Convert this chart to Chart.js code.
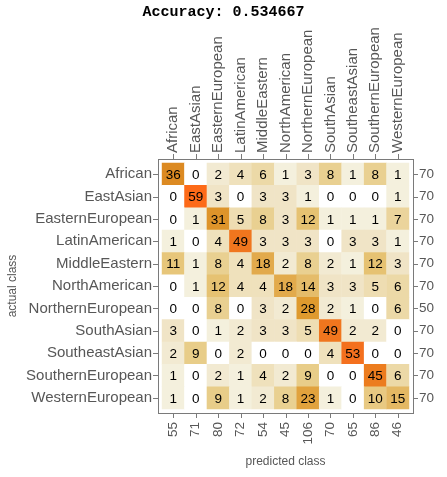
<!DOCTYPE html>
<html>
<head>
    <title>Confusion Matrix</title>
    <script src="https://cdn.jsdelivr.net/npm/chart.js"></script>
    <style>
        body { margin: 0; background: #fff; }
        #wrap { width: 447px; height: 477px; }
    </style>
</head>
<body>
    <div id="wrap"><canvas id="cm" width="447" height="477"></canvas></div>

    <script>
        const classes = ["African", "EastAsian", "EasternEuropean", "LatinAmerican", "MiddleEastern",
            "NorthAmerican", "NorthernEuropean", "SouthAsian", "SoutheastAsian", "SouthernEuropean", "WesternEuropean"];

        // rows = actual class, columns = predicted class
        const matrix = [
            [36, 0, 2, 4, 6, 1, 3, 8, 1, 8, 1],
            [0, 59, 3, 0, 3, 3, 1, 0, 0, 0, 1],
            [0, 1, 31, 5, 8, 3, 12, 1, 1, 1, 7],
            [1, 0, 4, 49, 3, 3, 3, 0, 3, 3, 1],
            [11, 1, 8, 4, 18, 2, 8, 2, 1, 12, 3],
            [0, 1, 12, 4, 4, 18, 14, 3, 3, 5, 6],
            [0, 0, 8, 0, 3, 2, 28, 2, 1, 0, 6],
            [3, 0, 1, 2, 3, 3, 5, 49, 2, 2, 0],
            [2, 9, 0, 2, 0, 0, 0, 4, 53, 0, 0],
            [1, 0, 2, 1, 4, 2, 9, 0, 0, 45, 6],
            [1, 0, 9, 1, 2, 8, 23, 1, 0, 10, 15]
        ];

        const rowTotals = ["70", "70", "70", "70", "70", "70", "50", "70", "70", "70", "70"];
        const colTotals = ["55", "71", "80", "72", "54", "45", "106", "70", "65", "86", "46"];

        // colour ramp (value -> rgb)
        const ramp = [
            [0, [255, 255, 255]], [1, [244, 240, 221]], [3, [240, 228, 198]], [5, [238, 221, 178]],
            [8, [233, 208, 145]], [12, [230, 194, 114]], [14, [229, 188, 106]], [18, [226, 170, 76]],
            [28, [223, 154, 46]], [36, [220, 138, 34]], [45, [236, 124, 30]], [53, [244, 112, 30]],
            [59, [253, 106, 24]]
        ];

        function cellColor(v) {
            for (let k = 1; k < ramp.length; k++) {
                if (v <= ramp[k][0]) {
                    const [v0, c0] = ramp[k - 1], [v1, c1] = ramp[k];
                    const t = (v - v0) / (v1 - v0);
                    const c = c0.map((a, i) => Math.round(a + (c1[i] - a) * t));
                    return `rgb(${c[0]},${c[1]},${c[2]})`;
                }
            }
            return "rgb(253,106,24)";
        }

        const points = [];
        matrix.forEach((row, i) => row.forEach((v, j) => {
            points.push({ x: classes[j], y: classes[i], v: v });
        }));

        const labelColor = "#575757";
        const frameColor = "#7a7a7a";

        // draws numbers in the cells, the frame and the tick marks
        const overlay = {
            id: "overlay",
            afterDatasetsDraw(chart) {
                const ctx = chart.ctx;
                const meta = chart.getDatasetMeta(0);
                ctx.save();
                ctx.font = "13.5px 'Liberation Sans', Arial, sans-serif";
                ctx.fillStyle = "#000";
                ctx.textAlign = "center";
                ctx.textBaseline = "middle";
                meta.data.forEach((el, k) => {
                    ctx.fillText(String(points[k].v), el.x, el.y + 1);
                });
                ctx.restore();
            },
            afterDraw(chart) {
                const ctx = chart.ctx;
                const a = chart.chartArea;
                const pad = 4, tl = 5;
                const L = a.left - pad, R = a.right + pad, T = a.top - pad, B = a.bottom + pad;
                ctx.save();
                ctx.strokeStyle = frameColor;
                ctx.lineWidth = 1;
                ctx.strokeRect(Math.round(L) + 0.5, Math.round(T) + 0.5, Math.round(R - L), Math.round(B - T));
                ctx.beginPath();
                const xs = chart.scales.x, ys = chart.scales.y;
                classes.forEach((c, i) => {
                    const px = Math.round(xs.getPixelForValue(i)) + 0.5;
                    ctx.moveTo(px, T); ctx.lineTo(px, T - tl);
                    ctx.moveTo(px, B); ctx.lineTo(px, B + tl);
                    const py = Math.round(ys.getPixelForValue(i)) + 0.5;
                    ctx.moveTo(L, py); ctx.lineTo(L - tl, py);
                    ctx.moveTo(R, py); ctx.lineTo(R + tl, py);
                });
                ctx.stroke();
                ctx.restore();
            }
        };

        const tickFont = { family: "'Liberation Sans', Arial, sans-serif", size: 15 };
        const numFont = { family: "'Liberation Sans', Arial, sans-serif", size: 13.5 };
        const noGrid = { display: false, drawTicks: false };

        function cellRadius(c) {
            const a = c.chart.chartArea;
            if (!a) return 10;
            return (a.right - a.left) / classes.length / 2 * Math.SQRT2 + 0.3;
        }

        new Chart(document.getElementById("cm"), {
            type: "scatter",
            data: {
                datasets: [{
                    data: points,
                    pointStyle: "rect",
                    borderWidth: 0,
                    backgroundColor: (c) => cellColor(c.raw ? c.raw.v : 0),
                    pointRadius: cellRadius,
                    pointHoverRadius: cellRadius
                }]
            },
            options: {
                responsive: false,
                animation: false,
                layout: { padding: 0 },
                plugins: {
                    legend: { display: false },
                    tooltip: { enabled: false },
                    title: {
                        display: true,
                        text: "Accuracy: 0.534667",
                        color: "#000",
                        font: { family: "'Liberation Mono', 'DejaVu Sans Mono', monospace", size: 15, weight: "bold" },
                        padding: { top: 3, bottom: 0 }
                    }
                },
                scales: {
                    x: {
                        type: "category",
                        position: "top",
                        labels: classes,
                        offset: true,
                        grid: noGrid,
                        border: { display: false },
                        ticks: { color: labelColor, font: tickFont, padding: 10, labelOffset: 18, minRotation: 90, maxRotation: 90, autoSkip: false },
                        afterFit: (s) => { s.height = 142; }
                    },
                    xb: {
                        type: "category",
                        position: "bottom",
                        labels: colTotals,
                        offset: true,
                        grid: noGrid,
                        border: { display: false },
                        ticks: { color: labelColor, font: numFont, padding: 13, minRotation: 90, maxRotation: 90, autoSkip: false },
                        title: { display: true, text: "predicted class", color: labelColor, font: { family: "'Liberation Sans', Arial, sans-serif", size: 12 }, padding: { top: 0, bottom: 8 } },
                        afterFit: (s) => { s.height = 68; }
                    },
                    y: {
                        type: "category",
                        position: "left",
                        labels: classes,
                        offset: true,
                        grid: noGrid,
                        border: { display: false },
                        ticks: { color: labelColor, font: tickFont, padding: 10, autoSkip: false },
                        title: { display: true, text: "actual class", color: labelColor, font: { family: "'Liberation Sans', Arial, sans-serif", size: 12 }, padding: { top: 5, bottom: 0 } },
                        afterFit: (s) => { s.width = 162; }
                    },
                    yr: {
                        type: "category",
                        position: "right",
                        labels: rowTotals,
                        offset: true,
                        grid: noGrid,
                        border: { display: false },
                        ticks: { color: labelColor, font: numFont, padding: 10, autoSkip: false },
                        afterFit: (s) => { s.width = 38; }
                    }
                }
            },
            plugins: [overlay]
        });
    </script>
</body>
</html>
